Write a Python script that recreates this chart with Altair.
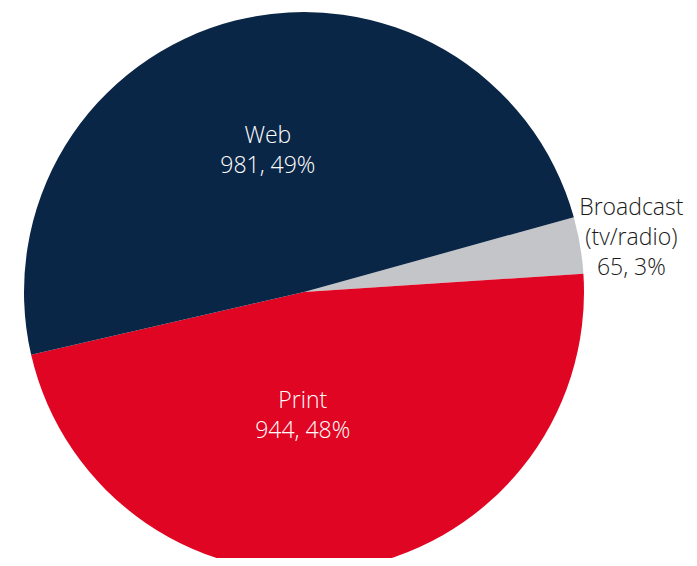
import math
import altair as alt
import pandas as pd

categories = ["Broadcast (tv/radio)", "Print", "Web"]
label_text = ["Broadcast\n(tv/radio)\n65, 3%", "Print\n944, 48%", "Web\n981, 49%"]
values = [65, 944, 981]
order = [1, 2, 3]
colors = ["#C4C5C8", "#E00522", "#0A2647"]

df = pd.DataFrame({"category": categories, "value": values, "label": label_text, "order": order})

start = math.radians(74.5)
theta_scale = alt.Scale(range=[start, start + 2 * math.pi])
cx, cy = 296, 284

base = alt.Chart(df).encode(
    theta=alt.Theta("value:Q", stack=True, scale=theta_scale),
    order=alt.Order("order:Q"),
    x=alt.value(cx),
    y=alt.value(cy),
)

pie = base.mark_arc(stroke=None).encode(
    color=alt.Color("category:N", scale=alt.Scale(domain=categories, range=colors), legend=None),
    radius=alt.value(280),
)

def label_layer(cat, r, color, dx, dy):
    return base.mark_text(
        font="Open Sans", fontSize=23, fontWeight=300, lineHeight=30, align="center", baseline="middle",
        color=color, lineBreak="\n", dx=dx, dy=dy,
    ).encode(
        text="label:N",
        radius=alt.value(r),
        opacity=alt.condition(alt.datum.category == cat, alt.value(1), alt.value(0)),
    )

chart = alt.layer(
    pie,
    label_layer("Web", 147, "white", 0, -14),
    label_layer("Print", 122, "white", -19, -12),
    label_layer("Broadcast (tv/radio)", 332, "#1a1a1a", 0, -29),
).properties(
    width=681, height=550, padding=0, autosize=alt.AutoSizeParams(type="none")
).configure_view(stroke=None)

chart.save("out.html", embed_options={"renderer": "svg", "actions": False})
